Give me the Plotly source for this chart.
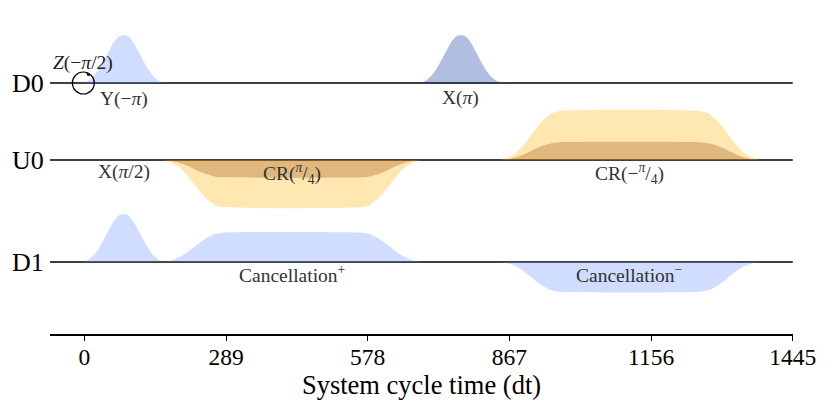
import plotly.graph_objects as go

# time axis (dt)
TICKS = [0, 289, 578, 867, 1156, 1445]
X_MIN = -70
X_MAX = 1445

CHANNELS = ["D0", "U0", "D1"]

# gaussian envelope: fraction of duration / relative amplitude
GAUSS_T = [0, 0.0625, 0.125, 0.1875, 0.25, 0.3125, 0.375, 0.4375, 0.5,
           0.5625, 0.625, 0.6875, 0.75, 0.8125, 0.875, 0.9375, 1]
GAUSS_A = [0, 0.06, 0.15, 0.29, 0.47, 0.66, 0.85, 0.97, 1,
           0.97, 0.85, 0.66, 0.47, 0.29, 0.15, 0.06, 0]

# gaussian-square rising edge: dt from pulse start / relative amplitude
EDGE_T = [0, 15, 30, 45, 60, 75, 90, 105, 122]
EDGE_A = [0, 0.04, 0.13, 0.27, 0.46, 0.66, 0.83, 0.95, 1]

# pulses
PULSE_CHANNEL = ["D0", "D0", "D1", "U0", "U0", "D1", "D1"]
PULSE_KIND = ["gauss", "gauss", "gauss", "square", "square", "square", "square"]
PULSE_START = [0, 688, 0, 160, 848, 160, 848]
PULSE_DUR = [160, 160, 160, 528, 530, 528, 530]
PULSE_RE = [1.0, 0.0, 1.0, -0.98, 1.02, 0.61, -0.62]
PULSE_IM = [0.0, 1.0, 0.0, -0.36, 0.37, 0.0, 0.0]

LABELS = ["Y(−<i>π</i>)", "X(<i>π</i>)", "X(<i>π</i>/2)", "CR(<sup><i>π</i></sup>/<sub>4</sub>)",
          "CR(−<sup><i>π</i></sup>/<sub>4</sub>)", "Cancellation<sup>+</sup>", "Cancellation<sup>−</sup>"]
LABEL_T = [80, 768, 80, 424, 1113, 424, 1113]

# layout helpers (page pixels, the page body adds 8px)
BASE = {"D0": 83, "U0": 160, "D1": 262}
LABEL_Y = [99, 98, 172, 173, 173, 274, 274]
AMP_PX = 48
COLORS = {"D": ("rgba(100,143,255,0.3)", "rgba(0,41,153,0.3)"),
          "U": ("rgba(255,176,0,0.3)", "rgba(153,74,0,0.3)")}
FONT = "Liberation Serif"


def envelope(kind, start, dur):
    if kind == "gauss":
        return [start + f * dur for f in GAUSS_T], GAUSS_A
    ts = [start + t for t in EDGE_T] + [start + dur - t for t in EDGE_T[::-1]]
    return ts, EDGE_A + EDGE_A[::-1]


fig = go.Figure()

# channel baselines
for ch in CHANNELS:
    fig.add_trace(go.Scatter(x=[X_MIN, X_MAX], y=[-BASE[ch]] * 2, mode="lines",
                             line=dict(color="black", width=1.6), hoverinfo="skip"))

for ch, kind, t0, dur, re, im in zip(PULSE_CHANNEL, PULSE_KIND, PULSE_START,
                                     PULSE_DUR, PULSE_RE, PULSE_IM):
    ts, shape = envelope(kind, t0, dur)
    for amp, col in zip((re, im), COLORS[ch[0]]):
        if amp == 0:
            continue
        fig.add_trace(go.Scatter(
            x=ts, y=[-BASE[ch] + amp * a * AMP_PX for a in shape],
            mode="lines", fill="toself", fillcolor=col,
            line=dict(width=0, shape="spline", smoothing=0.6), hoverinfo="skip"))

# frame change symbol on D0
fig.add_trace(go.Scatter(x=[-2], y=[-BASE["D0"]], mode="markers",
                         marker=dict(symbol="circle-open", size=22, color="black",
                                     line=dict(color="black", width=1.2)),
                         hoverinfo="skip"))

annotations = []
for txt, t, y in zip(LABELS, LABEL_T, LABEL_Y):
    annotations.append(dict(x=t, y=-y, text=txt, showarrow=False,
                            font=dict(family=FONT, size=19.5, color="#333")))
annotations.append(dict(x=-2, y=-63, text="<i>Z</i>(−<i>π</i>/2)", showarrow=False,
                        font=dict(family=FONT, size=19.5, color="#222")))
annotations.append(dict(x=4, y=-73, ax=5, ay=4, text="", showarrow=True,
                        arrowhead=2, arrowsize=0.7, arrowwidth=1, arrowcolor="black"))
for ch in CHANNELS:
    annotations.append(dict(x=0, xref="paper", xanchor="right", xshift=-4, y=-BASE[ch],
                            text=ch, showarrow=False,
                            font=dict(family=FONT, size=26, color="black")))

fig.update_layout(
    width=831, height=412,
    margin=dict(l=42, r=46, t=0, b=86),
    plot_bgcolor="white", paper_bgcolor="white",
    showlegend=False,
    annotations=annotations,
    xaxis=dict(range=[X_MIN, X_MAX + 0.5], tickvals=TICKS, ticktext=[str(t) for t in TICKS],
               showline=True, linecolor="black", linewidth=1.6,
               ticks="outside", ticklen=5, tickcolor="black", tickwidth=1.2,
               ticklabelstandoff=-4,
               showgrid=False, zeroline=False,
               tickfont=dict(family=FONT, size=23.5, color="black"),
               title=dict(text="System cycle time (dt)", standoff=3,
                          font=dict(family=FONT, size=26.5, color="black"))),
    yaxis=dict(range=[-334, -8], visible=False),
)

fig.write_html("out.html")
